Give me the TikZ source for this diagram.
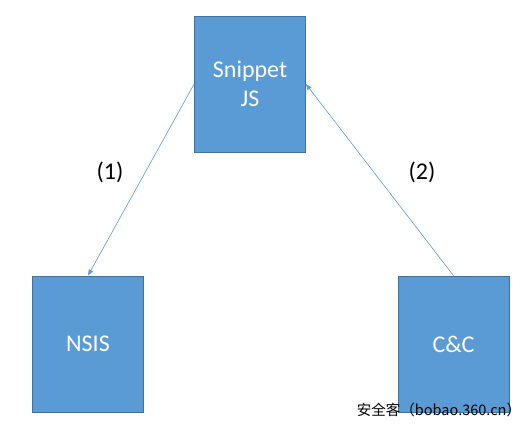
\documentclass[tikz,border=0pt]{standalone}
\usepackage{fontspec}
\setmainfont{Carlito}
\newfontfamily\cjkfont{Noto Sans CJK SC}
\definecolor{boxblue}{RGB}{91, 155, 213}
\definecolor{boxedge}{RGB}{65, 113, 156}
\usetikzlibrary{arrows.meta}

\begin{document}
\begin{tikzpicture}[x=1pt, y=-1pt,
    stagebox/.style={fill=boxblue, draw=boxedge, line width=0.75pt,
        minimum width=111pt, minimum height=136pt, inner sep=0pt,
        text=white, font=\fontsize{24}{29}\selectfont, align=center},
    flow/.style={draw=boxblue, line width=0.6pt,
        -{Triangle[length=6pt, width=4.5pt]}},
    steplabel/.style={font=\fontsize{24}{28}\selectfont}]
    \useasboundingbox (0,0) rectangle (528,428);

    % The three parties
    \node[stagebox] (snippet) at (250,84) {Snippet\\JS};
    \node[stagebox] (nsis) at (88,344) {NSIS};
    \node[stagebox] (cc) at (453.5,344) {C\&C};

    % Flow between them
    \draw[flow] (snippet.west) -- (nsis.north);
    \draw[flow] (cc.north) -- (snippet.east);

    % Step numbers
    \node[steplabel] (one) at (110,172) {(1)};
    \node[steplabel] (two) at (422,172) {(2)};

    % Watermark
    \node[font=\cjkfont\fontsize{14.5}{14.5}\selectfont] (mark) at (439,410)
        {安全客（bobao.360.cn）};
\end{tikzpicture}
\end{document}
